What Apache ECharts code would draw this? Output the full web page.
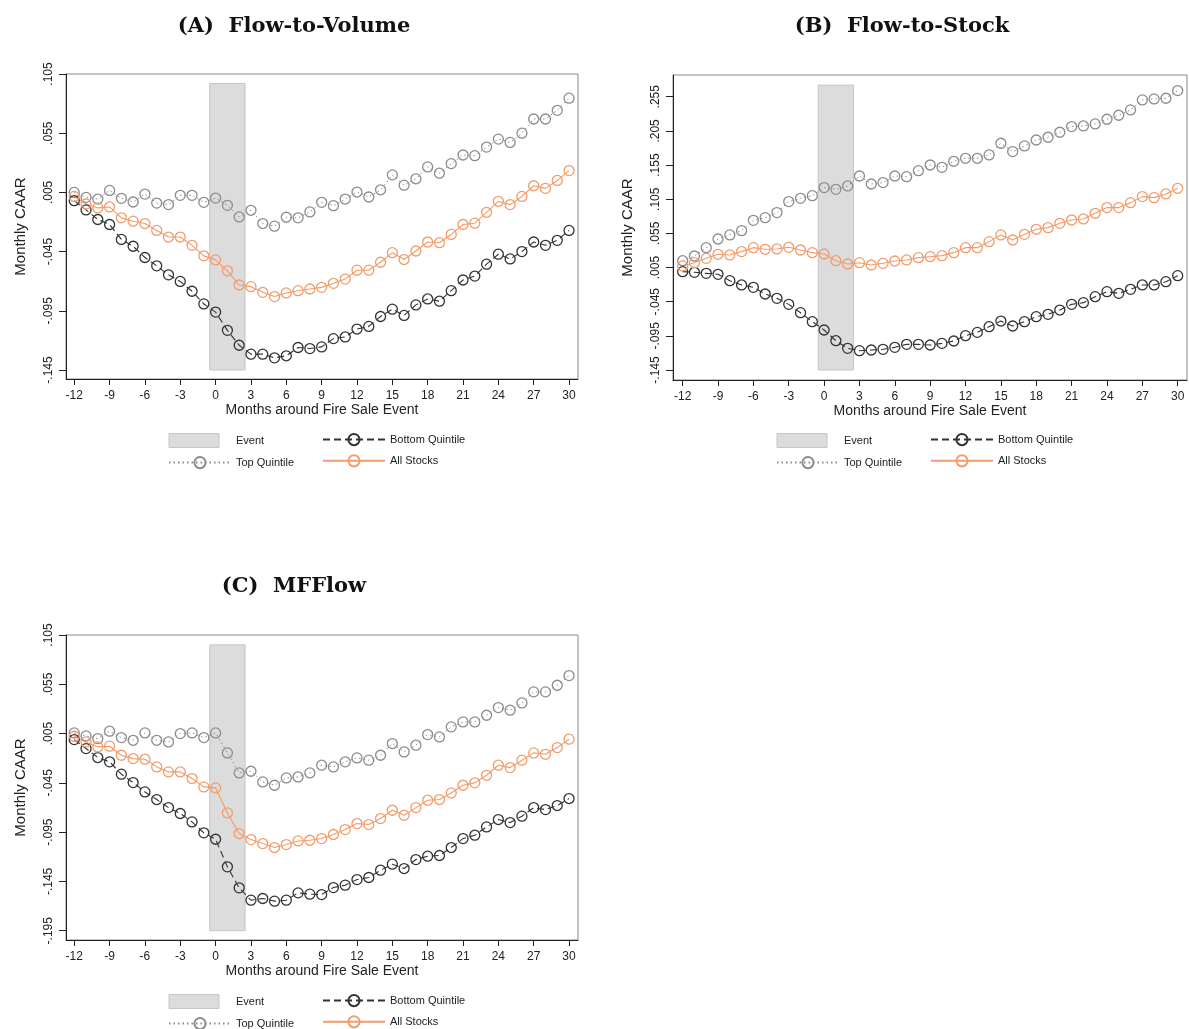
<!DOCTYPE html>
<html>
<head>
<meta charset="utf-8">
<script src="https://cdn.jsdelivr.net/npm/echarts@6/dist/echarts.min.js"></script>
<style>
  html, body { margin: 0; padding: 0; background: #fff; }
  #chart { width: 1189px; height: 1029px; }
</style>
</head>
<body>
<div id="chart"></div>
<script>
// months around the event
var months = [-12,-11,-10,-9,-8,-7,-6,-5,-4,-3,-2,-1,0,1,2,3,4,5,6,7,8,9,10,11,12,13,14,15,16,17,18,19,20,21,22,23,24,25,26,27,28,29,30];
var xTicks = [-12,-9,-6,-3,0,3,6,9,12,15,18,21,24,27,30];

// (A) Flow-to-Volume
var topA = [0.005,0.0008,-0.0006,0.0067,0.0,-0.0031,0.0036,-0.004,-0.0053,0.0025,0.0025,-0.0034,0.0002,-0.0059,-0.0157,-0.0101,-0.0213,-0.0235,-0.016,-0.0165,
  -0.0115,-0.0034,-0.0062,-0.0006,0.0053,0.0011,0.0072,0.0198,0.0111,0.0165,0.0265,0.0212,0.0293,0.0366,0.036,0.0433,0.05,0.0472,0.055,0.067,0.067,0.0743,0.0846];
var allA = [0.0016,-0.0048,-0.0081,-0.0073,-0.0165,-0.0193,-0.0213,-0.0271,-0.0327,-0.0327,-0.0397,-0.0486,-0.052,-0.0612,-0.0732,-0.0746,-0.0794,-0.083,-0.0799,-0.078,
  -0.0766,-0.0752,-0.0718,-0.0682,-0.0607,-0.0607,-0.054,-0.0459,-0.0517,-0.0445,-0.0369,-0.0375,-0.0305,-0.0221,-0.021,-0.0118,-0.0025,-0.0053,0.0016,0.0106,0.0084,0.0151,0.0234];
var botA = [-0.002,-0.0098,-0.0179,-0.0221,-0.0347,-0.0405,-0.05,-0.057,-0.0646,-0.0702,-0.0785,-0.0892,-0.0961,-0.1115,-0.1241,-0.1316,-0.1316,-0.1347,-0.133,-0.126,
  -0.1269,-0.1255,-0.1185,-0.1171,-0.1104,-0.1082,-0.0998,-0.0936,-0.0989,-0.09,-0.085,-0.0869,-0.078,-0.069,-0.0657,-0.0556,-0.0472,-0.0512,-0.045,-0.0369,-0.0397,-0.0355,-0.0271];
var yTicksA = [-0.145,-0.095,-0.045,0.005,0.055,0.105];

// (B) Flow-to-Stock
var topB = [0.015,0.0219,0.0341,0.0468,0.0527,0.059,0.0741,0.078,0.0854,0.1015,0.1063,0.1102,0.122,0.1195,0.1244,0.139,0.1273,0.1293,0.139,0.138,
  0.1468,0.1551,0.1517,0.1605,0.1649,0.1649,0.1698,0.1869,0.1747,0.183,0.1917,0.1957,0.203,0.2113,0.2122,0.2152,0.222,0.2279,0.2357,0.2503,0.2518,0.2528,0.264];
var allB = [0.0073,0.0121,0.0185,0.0244,0.0234,0.0283,0.0341,0.0317,0.0322,0.0346,0.0307,0.0268,0.0248,0.015,0.0102,0.0121,0.0087,0.0112,0.0146,0.0161,
  0.0195,0.0209,0.0224,0.0268,0.0341,0.0341,0.0429,0.0527,0.0453,0.0536,0.061,0.0634,0.0697,0.0746,0.0761,0.0844,0.0927,0.0927,0.1,0.1088,0.1073,0.1127,0.121];
var botB = [-0.001,-0.002,-0.0035,-0.0049,-0.0142,-0.0205,-0.024,-0.0337,-0.0401,-0.0489,-0.0611,-0.0742,-0.0864,-0.1021,-0.1133,-0.1167,-0.1157,-0.1147,-0.1118,-0.1074,
  -0.1074,-0.1084,-0.106,-0.1025,-0.0947,-0.0899,-0.0816,-0.0733,-0.0806,-0.0742,-0.0669,-0.0635,-0.0572,-0.0489,-0.0464,-0.0376,-0.0303,-0.0328,-0.0269,-0.0205,-0.0205,-0.0157,-0.0069];
var yTicksB = [-0.145,-0.095,-0.045,0.005,0.055,0.105,0.155,0.205,0.255];

// (C) MFFlow
var topC = [0.0057,0.0026,-0.0001,0.0074,0.0009,-0.0018,0.0057,-0.0018,-0.0035,0.005,0.0057,0.0009,0.0057,-0.0146,-0.0349,-0.0332,-0.044,-0.0474,-0.04,-0.039,
  -0.0349,-0.0271,-0.0288,-0.0237,-0.0197,-0.022,-0.017,-0.0051,-0.0136,-0.0068,0.004,0.0016,0.0118,0.0168,0.0168,0.0236,0.0314,0.0287,0.0361,0.0473,0.0473,0.054,0.0638];
var allC = [0.0023,-0.0035,-0.0085,-0.0078,-0.017,-0.0204,-0.021,-0.0288,-0.0339,-0.0339,-0.0406,-0.0491,-0.0501,-0.0755,-0.0964,-0.1025,-0.1066,-0.1106,-0.1076,-0.1039,
  -0.1032,-0.1015,-0.0974,-0.0924,-0.0863,-0.0873,-0.0812,-0.0728,-0.0778,-0.0701,-0.0626,-0.0619,-0.0552,-0.0474,-0.045,-0.0373,-0.0271,-0.0295,-0.022,-0.0146,-0.016,-0.0092,-0.0007];
var botC = [-0.0011,-0.0102,-0.0193,-0.0237,-0.0362,-0.0447,-0.0542,-0.0619,-0.0701,-0.0761,-0.0846,-0.0957,-0.1022,-0.1302,-0.1515,-0.164,-0.1623,-0.165,-0.164,-0.1566,
  -0.1579,-0.1583,-0.1512,-0.1488,-0.1431,-0.141,-0.1336,-0.1275,-0.1319,-0.1228,-0.1194,-0.1187,-0.1106,-0.1015,-0.0981,-0.0897,-0.0822,-0.0853,-0.0788,-0.0701,-0.0721,-0.068,-0.0609];
var yTicksC = [-0.195,-0.145,-0.095,-0.045,0.005,0.055,0.105];

// event window: months -0.5..2.5, [ymin, ymax] per panel
var eventX = [-0.5, 2.5];
var eventYA = [-0.145, 0.097];
var eventYB = [-0.145, 0.272];
var eventYC = [-0.195, 0.095];

var FONT = 'Liberation Sans, Arial, sans-serif';
var GRAY = '#8c8c8c', DARK = '#333333', ORANGE = '#f39c6b';

function pairs(ys) {
    return months.map(function (m, i) { return [m, ys[i]]; });
}
function fmtY(v) {
    return v.toFixed(3).replace('0.', '.');
}

// layout of each panel
var panels = [
    { title: '(A)  Flow-to-Volume', tx: 294, ty: 27, grid: { left: 66, top: 74, width: 512, height: 305 },
      xr: [-12.70, 30.76], yr: [-0.1526, 0.105], yTicks: yTicksA, top: topA, all: allA, bot: botA, ev: eventYA,
      lg: [163, 317], lgTop: 428 },
    { title: '(B)  Flow-to-Stock', tx: 902, ty: 27, grid: { left: 673, top: 75, width: 514, height: 305 },
      xr: [-12.82, 30.79], yr: [-0.1596, 0.2868], yTicks: yTicksB, top: topB, all: allB, bot: botB, ev: eventYB,
      lg: [771, 925], lgTop: 428 },
    { title: '(C)  MFFlow', tx: 294, ty: 587, grid: { left: 66, top: 635, width: 512, height: 305 },
      xr: [-12.70, 30.76], yr: [-0.2044, 0.105], yTicks: yTicksC, top: topC, all: allC, bot: botC, ev: eventYC,
      lg: [163, 317], lgTop: 989 }
];

var grids = [], xAxes = [], yAxes = [], series = [], legends = [], graphics = [];

panels.forEach(function (p, i) {
    grids.push(Object.assign({ show: true, borderColor: '#8a8a8a', borderWidth: 1, backgroundColor: '#fff' }, p.grid));
    xAxes.push({
        type: 'value', gridIndex: i, min: p.xr[0], max: p.xr[1],
        axisLine: { show: true, onZero: false, lineStyle: { color: '#222', width: 1 } },
        axisTick: { show: true, length: 6, customValues: xTicks, lineStyle: { color: '#222' } },
        axisLabel: { customValues: xTicks, margin: 11, fontSize: 12, color: '#222', fontFamily: FONT },
        splitLine: { show: false },
        name: 'Months around Fire Sale Event', nameLocation: 'middle', nameGap: 24,
        nameTextStyle: { fontSize: 14, color: '#222', fontFamily: FONT }
    });
    yAxes.push({
        type: 'value', gridIndex: i, min: p.yr[0], max: p.yr[1],
        axisLine: { show: true, onZero: false, lineStyle: { color: '#222', width: 1 } },
        axisTick: { show: true, length: 7, customValues: p.yTicks, lineStyle: { color: '#222' } },
        axisLabel: { customValues: p.yTicks, rotate: 90, margin: 11, fontSize: 12, color: '#222', fontFamily: FONT, formatter: fmtY },
        splitLine: { show: false },
        name: 'Monthly CAAR', nameLocation: 'middle', nameGap: 38,
        nameTextStyle: { fontSize: 15, color: '#222', fontFamily: FONT }
    });

    // event window shading
    series.push({
        name: 'Event', type: 'line', xAxisIndex: i, yAxisIndex: i, data: [], z: 1,
        silent: true,
        markArea: {
            silent: true,
            itemStyle: { color: '#dcdcdc', borderColor: '#c6c6c6', borderWidth: 1 },
            data: [[{ xAxis: eventX[0], yAxis: p.ev[0] }, { xAxis: eventX[1], yAxis: p.ev[1] }]]
        }
    });
    var common = {
        type: 'line', xAxisIndex: i, yAxisIndex: i, symbol: 'circle', symbolSize: 10,
        showSymbol: true, animation: false, z: 3
    };
    series.push(Object.assign({}, common, {
        name: 'Top Quintile', data: pairs(p.top),
        lineStyle: { color: GRAY, width: 1, type: [1.5, 3] },
        itemStyle: { color: 'transparent', borderColor: GRAY, borderWidth: 1.3 }
    }));
    series.push(Object.assign({}, common, {
        name: 'Bottom Quintile', data: pairs(p.bot),
        lineStyle: { color: DARK, width: 1.1, type: [7, 4] },
        itemStyle: { color: 'transparent', borderColor: DARK, borderWidth: 1.3 }
    }));
    series.push(Object.assign({}, common, {
        name: 'All Stocks', data: pairs(p.all),
        lineStyle: { color: ORANGE, width: 1.1 },
        itemStyle: { color: 'transparent', borderColor: ORANGE, borderWidth: 1.3 }
    }));

    var lgBase = {
        orient: 'vertical', top: p.lgTop, height: 50, itemWidth: 62, itemHeight: 14, itemGap: 8,
        textStyle: { fontSize: 11, color: '#222', fontFamily: FONT }, selectedMode: false
    };
    legends.push(Object.assign({}, lgBase, {
        left: p.lg[0],
        data: [
            { name: 'Event', icon: 'path://M0,0 H50 V14 H0 Z M62,0 L62,0', itemStyle: { color: '#dcdcdc', borderColor: '#c6c6c6', borderWidth: 1 } },
            'Top Quintile'
        ]
    }));
    legends.push(Object.assign({}, lgBase, { left: p.lg[1], data: ['Bottom Quintile', 'All Stocks'] }));

    graphics.push({
        type: 'text', x: p.tx, y: p.ty,
        style: { text: p.title, font: 'bold 21px "DejaVu Serif", serif', fill: '#111', align: 'center', verticalAlign: 'middle' }
    });
});

var chart = echarts.init(document.getElementById('chart'), null, { renderer: 'canvas' });
chart.setOption({
    backgroundColor: '#fff',
    animation: false,
    grid: grids,
    xAxis: xAxes,
    yAxis: yAxes,
    legend: legends,
    series: series,
    graphic: graphics
});
</script>
</body>
</html>
